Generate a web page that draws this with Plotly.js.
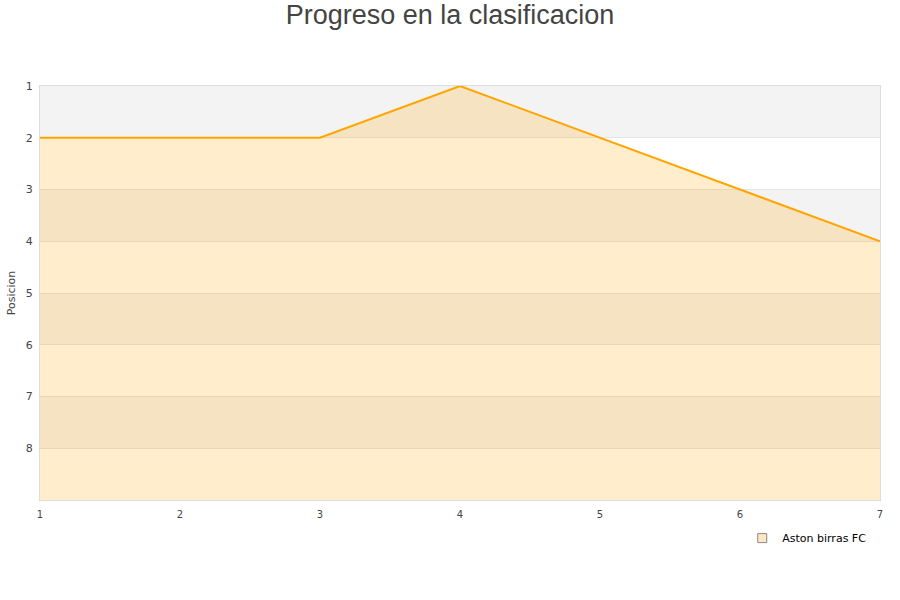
<!DOCTYPE html>
<html>
<head>
<meta charset="utf-8">
<script src="https://cdn.plot.ly/plotly-3.0.1.min.js"></script>
<style>html,body{margin:0;padding:0;background:#fff;}#chart{width:900px;height:600px;}</style>
</head>
<body>
<div id="chart"></div>
<script>
var jornadas = [1, 2, 3, 4, 5, 6, 7];
var posiciones = [2, 2, 2, 1, 2, 3, 4];
var teamName = "Aston birras FC";
var yTicks = [1, 2, 3, 4, 5, 6, 7, 8];
var bottomPos = 9;
var bandStarts = [1, 3, 5, 7];

var baseline = jornadas.map(function(){ return bottomPos; });

var traces = [
  {x: jornadas, y: baseline, mode: 'lines', line: {width: 0, color: 'rgba(0,0,0,0)'}, showlegend: false, hoverinfo: 'skip'},
  {x: jornadas, y: posiciones, mode: 'lines', fill: 'tonexty', fillcolor: 'rgba(255,165,0,0.2)',
   line: {color: '#ffa500', width: 2}, showlegend: false, name: teamName},
  {x: [null], y: [null], mode: 'markers', name: teamName,
   marker: {symbol: 'square', size: 9, color: 'rgba(255,165,0,0.25)', line: {color: '#888', width: 1}}}
];

var shapes = bandStarts.map(function(b){
  return {type: 'rect', xref: 'paper', yref: 'y', x0: 0, x1: 1, y0: b, y1: b + 1,
          fillcolor: '#f3f3f3', line: {width: 0}, layer: 'below'};
});

var layout = {
  width: 900, height: 600,
  margin: {l: 40, r: 20, t: 86, b: 100},
  paper_bgcolor: '#fff', plot_bgcolor: '#fff',
  title: {text: 'Progreso en la clasificacion', x: 0.5, xanchor: 'center', y: 0.975, yanchor: 'middle',
          font: {family: 'Liberation Sans, Arial, sans-serif', size: 27, color: '#444'}},
  font: {family: 'DejaVu Sans, sans-serif', size: 11, color: '#444'},
  xaxis: {range: [1, 7], tickvals: jornadas, showgrid: false, zeroline: false,
          showline: true, linecolor: '#ddd', mirror: true, ticks: '', tickfont: {size: 10},
          ticklabelstandoff: 5},
  yaxis: {range: [bottomPos, 1], tickvals: yTicks, showgrid: true, gridcolor: '#e4e4e4', zeroline: false,
          showline: true, linecolor: '#ddd', mirror: true, ticks: '', tickfont: {size: 11},
          ticklabelstandoff: 4,
          title: {text: 'Posicion', font: {size: 11, color: '#444'}, standoff: 7}},
  shapes: shapes,
  legend: {x: 0.836, y: -0.057, xanchor: 'left', yanchor: 'top', bgcolor: 'rgba(255,255,255,0)',
           font: {size: 11, color: '#000'}},
  showlegend: true
};

Plotly.newPlot('chart', traces, layout, {displayModeBar: false, staticPlot: true});
</script>
</body>
</html>
